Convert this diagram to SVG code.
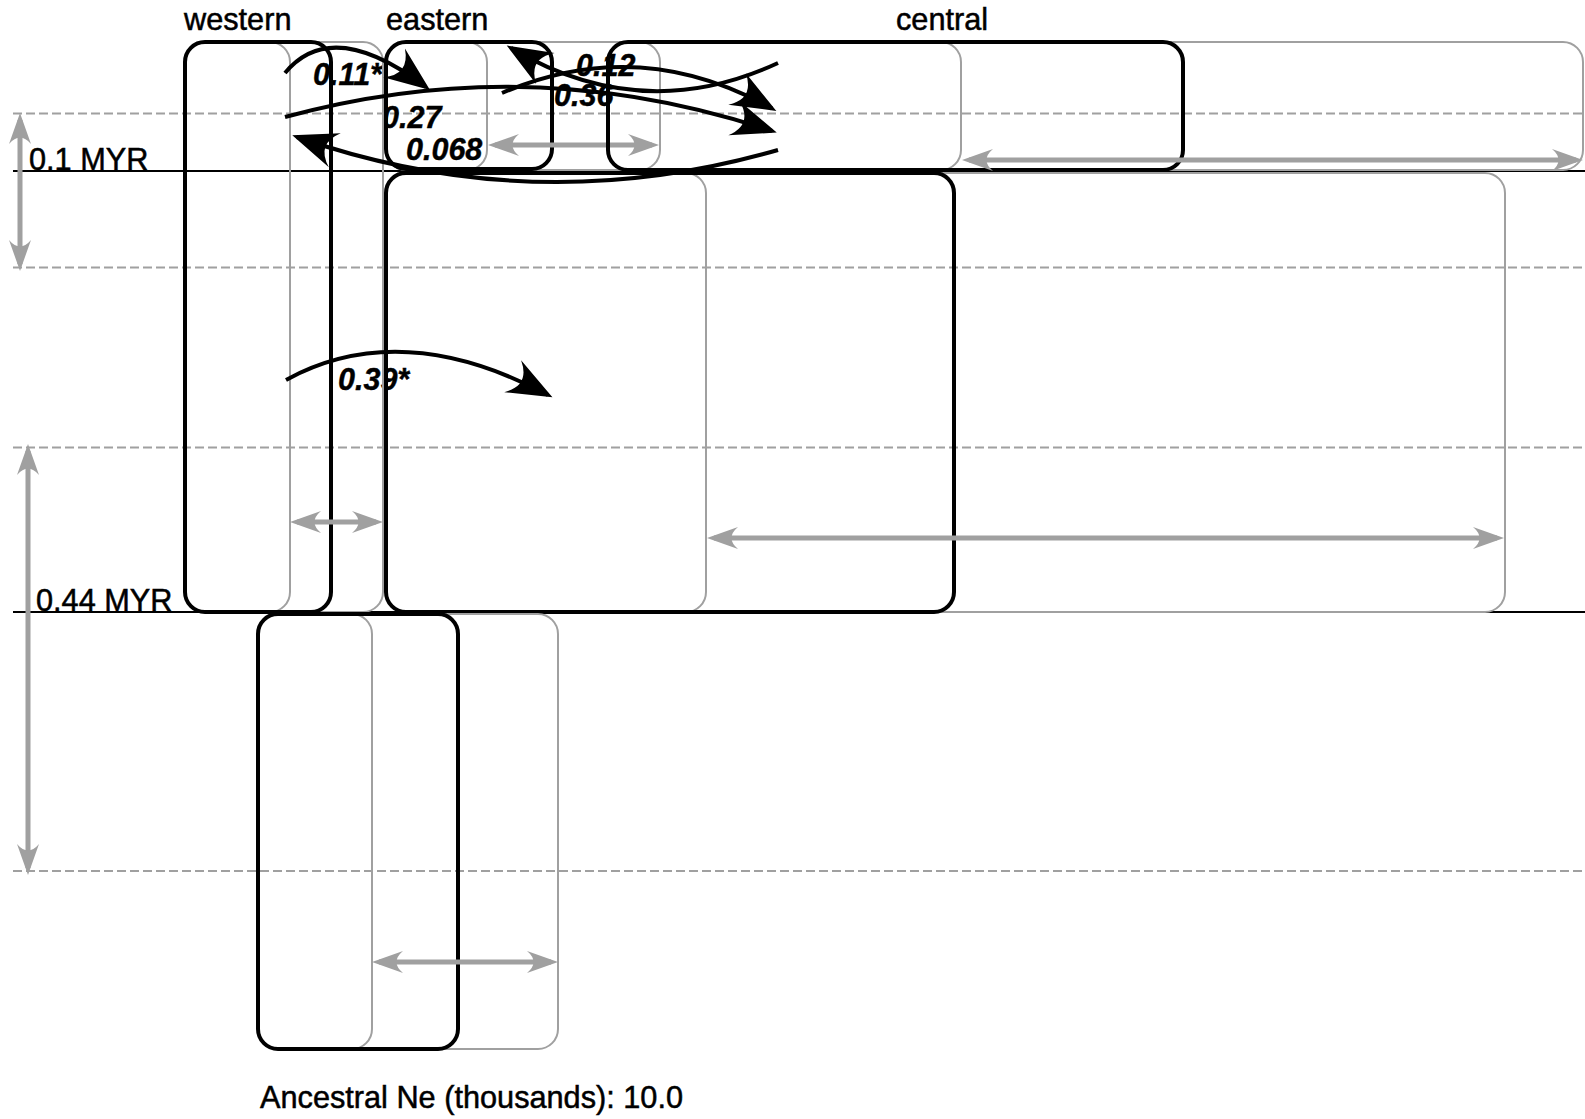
<svg xmlns="http://www.w3.org/2000/svg" width="1585" height="1119" viewBox="0 0 1585 1119">
<defs>
<style>
.lbl{font-family:"Liberation Sans",Arial,sans-serif;font-size:30.7px;fill:#000;stroke:#000;stroke-width:0.5}
.mig{font-family:"Liberation Sans",Arial,sans-serif;font-size:30.5px;font-weight:bold;font-style:italic;fill:#000;stroke:#000;stroke-width:0.4}
.blk{fill:none;stroke:#000;stroke-width:4}
.gry{fill:none;stroke:#a0a0a0;stroke-width:2}
.dash{stroke:#a0a0a0;stroke-width:2;stroke-dasharray:9 4}
.solid{stroke:#000;stroke-width:2}
.garr{stroke:#a0a0a0;stroke-width:5;fill:none;marker-start:url(#gh);marker-end:url(#gh)}
.marr{stroke:#000;stroke-width:4;fill:none;marker-end:url(#mh)}
</style>
<marker id="gh" markerUnits="userSpaceOnUse" orient="auto-start-reverse" viewBox="-30 -15 40 30" markerWidth="40" markerHeight="30" refX="0" refY="0" overflow="visible">
<path d="M7,0 L-24,-11 Q-11,0 -24,11 Z" fill="#a0a0a0"/>
</marker>
<marker id="mh" markerUnits="userSpaceOnUse" orient="auto" viewBox="-45 -20 55 40" markerWidth="55" markerHeight="40" refX="0" refY="0" overflow="visible">
<path d="M5,0 L-40,-18 Q-20,0 -40,18 Z" fill="#000"/>
</marker>
</defs>
<rect x="0" y="0" width="1585" height="1119" fill="#fff"/>

<g id="time-axis">
<line class="dash" x1="13" y1="113.5" x2="1585" y2="113.5"/>
<line class="dash" x1="13" y1="267.5" x2="1585" y2="267.5"/>
<line class="dash" x1="13" y1="447.5" x2="1585" y2="447.5"/>
<line class="dash" x1="13" y1="871" x2="1585" y2="871"/>
<line class="solid" x1="13" y1="171" x2="1585" y2="171"/>
<line class="solid" x1="13" y1="612" x2="1585" y2="612"/>
<text class="lbl" x="29" y="170">0.1 MYR</text>
<text class="lbl" x="36" y="611">0.44 MYR</text>
<line class="garr" x1="20" y1="120" x2="20" y2="264"/>
<line class="garr" x1="28" y1="451" x2="28" y2="868"/>
</g>

<g id="migration-labels">
<text class="mig" x="313" y="85">0.11*</text>
<text class="mig" x="382" y="128">0.27</text>
<text class="mig" x="406" y="160">0.068</text>
<text class="mig" x="576" y="76">0.12</text>
<text class="mig" x="554" y="106">0.36</text>
<text class="mig" x="338" y="390">0.39*</text>
</g>

<g id="pop-western">
<text class="lbl" x="184" y="30">western</text>
<rect class="gry" x="185" y="42" width="105" height="570" rx="20"/>
<rect class="gry" x="185" y="42" width="198" height="570" rx="20"/>
<rect class="blk" x="185" y="42" width="146" height="570" rx="20"/>
<line class="garr" x1="297" y1="522" x2="376" y2="522"/>
</g>

<g id="pop-eastern">
<text class="lbl" x="386" y="30">eastern</text>
<rect class="gry" x="386" y="42" width="101" height="128" rx="20"/>
<rect class="gry" x="386" y="42" width="274" height="128" rx="20"/>
<rect class="blk" x="386" y="42" width="166" height="127" rx="20"/>
<line class="garr" x1="495" y1="145" x2="652" y2="145"/>
</g>

<g id="pop-central">
<text class="lbl" x="896" y="30">central</text>
<rect class="gry" x="608" y="42" width="353" height="128" rx="20"/>
<rect class="gry" x="608" y="42" width="975" height="128" rx="20"/>
<rect class="blk" x="608" y="42" width="575" height="128" rx="20"/>
<line class="garr" x1="969" y1="160" x2="1576" y2="160"/>
</g>

<g id="pop-eastern-central-ancestor">
<rect class="gry" x="386" y="173" width="320" height="439" rx="20"/>
<rect class="gry" x="386" y="173" width="1119" height="439" rx="20"/>
<rect class="blk" x="386" y="173" width="568" height="439" rx="20"/>
<line class="garr" x1="714" y1="538" x2="1497" y2="538"/>
</g>

<g id="pop-ancestral">
<rect class="gry" x="258" y="614" width="114" height="435" rx="20"/>
<rect class="gry" x="258" y="614" width="300" height="435" rx="20"/>
<rect class="blk" x="258" y="614" width="200" height="435" rx="20"/>
<line class="garr" x1="379" y1="962" x2="551" y2="962"/>
<text class="lbl" x="260" y="1108">Ancestral Ne (thousands): 10.0</text>
</g>

<g id="connectors">
<path class="marr" d="M285,73 Q332,16 426,87"/>
<path class="marr" d="M285,117 Q530,50 772,131"/>
<path class="marr" d="M778,150 Q535,220 297,137"/>
<path class="marr" d="M502,93 Q639,34 772,108.5"/>
<path class="marr" d="M778,63 Q641.5,126 511,48"/>
<path class="marr" d="M286,380 Q401,317 548,395"/>
</g>
</svg>
